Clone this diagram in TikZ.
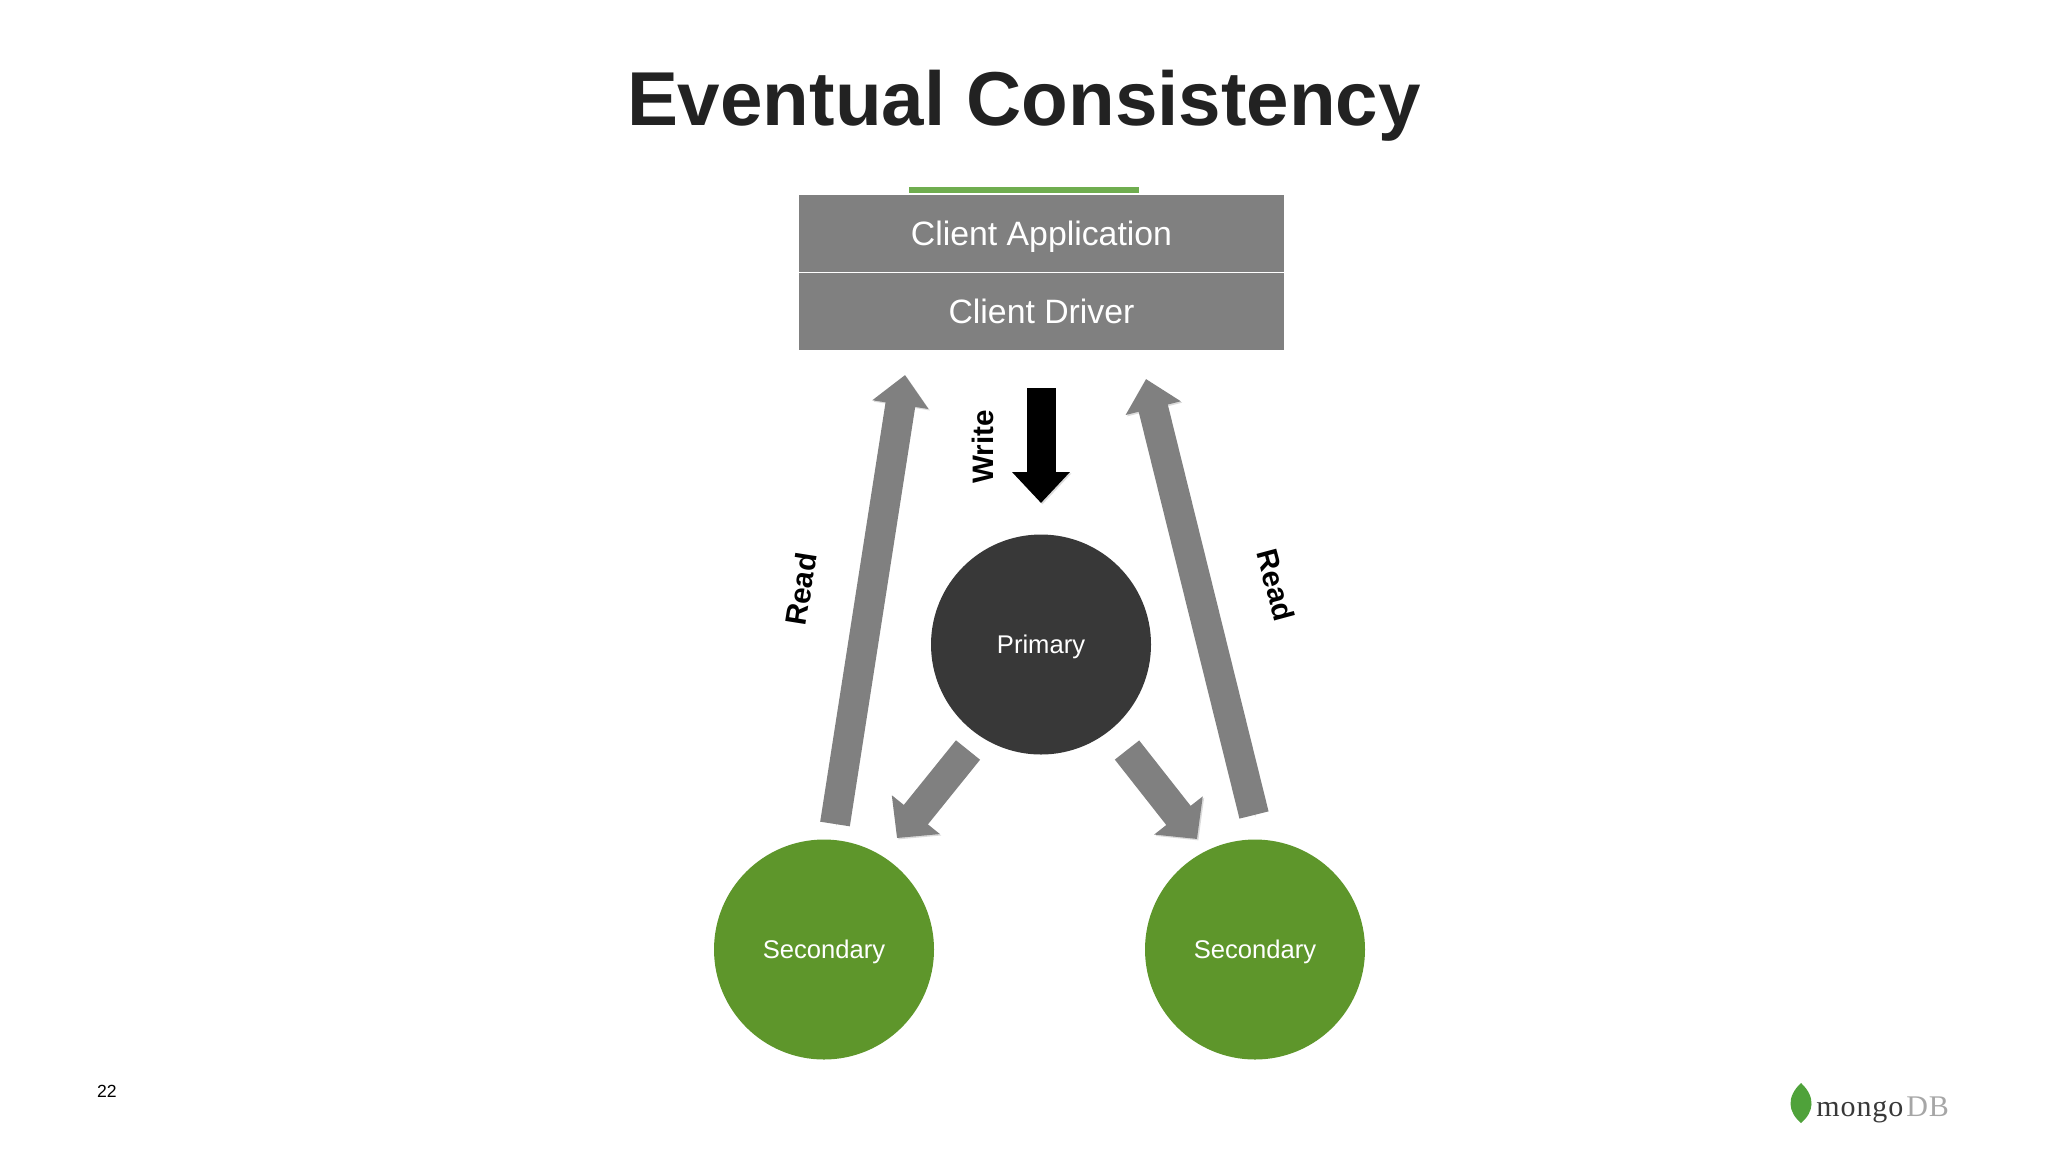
\documentclass[tikz,border=0pt]{standalone}
\usepackage{fontspec}
\usepackage{tikz}
\usetikzlibrary{arrows.meta}
\setmainfont{Liberation Sans}
\newfontfamily\logofont[LetterSpace=3]{Liberation Serif}

\definecolor{barGrey}{HTML}{808080}
\definecolor{darkPrimary}{HTML}{383838}
\definecolor{greenSecondary}{HTML}{5E962B}
\definecolor{greenBar}{HTML}{6FAD4F}
\definecolor{greenLeaf}{HTML}{4FA23A}
\definecolor{titleInk}{HTML}{222222}

\tikzset{
	softShadow/.style={preaction={draw=black!14, transform canvas={xshift=0.7pt, yshift=-0.7pt}}},
	clientBox/.style={fill=barGrey, text=white, minimum width=242.5pt, minimum height=38.6pt, inner sep=0pt, text height=14pt, text depth=2pt, font=\fontsize{16.9}{20}\selectfont},
	memberNode/.style={circle, minimum size=110pt, inner sep=0pt, text=white, text height=10pt, text depth=0.8pt, font=\fontsize{12.8}{15}\selectfont},
	readArrow/.style={softShadow, draw=barGrey, line width=15pt, -{Triangle[length=15pt, width=27.5pt]}},
	syncArrow/.style={softShadow, draw=barGrey, line width=15.5pt, -{Triangle[length=15pt, width=30pt]}},
	writeArrow/.style={softShadow, draw=black, line width=14.5pt, -{Triangle[length=15.5pt, width=28pt]}},
	opLabel/.style={font=\bfseries\fontsize{14.8}{18}\selectfont, text=black},
}

\begin{document}
\begin{tikzpicture}[x=0.5pt, y=-0.5pt]
\useasboundingbox (0, 0) rectangle (2048, 1152);

\node[text=titleInk, font=\bfseries\fontsize{38.2}{46}\selectfont] (title) at (1024, 106) {Eventual Consistency};

\fill[greenBar] (909, 187) rectangle (1139, 193);
\node[clientBox] (app) at (1041.5, 233.5) {Client Application};
\node[clientBox] (driver) at (1041.5, 311.5) {Client Driver};
\draw[white, line width=0.8pt] (app.south west) -- (app.south east);

\node[memberNode, fill=darkPrimary] (primary) at (1041, 644.5) {Primary};
\node[memberNode, fill=greenSecondary] (secondaryA) at (824, 949.5) {Secondary};
\node[memberNode, fill=greenSecondary] (secondaryB) at (1255, 949.5) {Secondary};

\coordinate (writeStart) at (1041, 388);
\coordinate (writeEnd) at (1041, 503);
\coordinate (readAStart) at (835, 824);
\coordinate (readAEnd) at (905, 375);
\coordinate (readBStart) at (1254, 815);
\coordinate (readBEnd) at (1146, 379);
\coordinate (syncAStart) at (968, 750);
\coordinate (syncAEnd) at (897, 838);
\coordinate (syncBStart) at (1127, 750);
\coordinate (syncBEnd) at (1197, 839);

\draw[writeArrow] (writeStart) -- (writeEnd);
\draw[readArrow] (readAStart) -- (readAEnd);
\draw[readArrow] (readBStart) -- (readBEnd);
\draw[syncArrow] (syncAStart) -- (syncAEnd);
\draw[syncArrow] (syncBStart) -- (syncBEnd);

\node[opLabel, rotate=90] (writeLabel) at (983, 447) {Write};
\node[opLabel, rotate=81] (readLabelA) at (801, 589) {Read};
\node[opLabel, rotate=-75] (readLabelB) at (1276, 585) {Read};

\node[font=\fontsize{8.8}{10}\selectfont] (pageNum) at (107, 1091) {22};

% logo
\fill[greenLeaf] (1801, 1083) .. controls (1786, 1097) and (1788, 1112) .. (1801, 1123) .. controls (1814, 1112) and (1816, 1097) .. (1801, 1083);
\node[anchor=base west, inner sep=0pt, text=darkPrimary, font=\logofont\fontsize{15}{20}\selectfont] (logoMongo) at (1816, 1116) {mongo};
\node[anchor=base west, inner sep=0pt, text=barGrey!70, font=\logofont\fontsize{15}{20}\selectfont] (logoDb) at (1906, 1116) {DB};
\end{tikzpicture}
\end{document}
